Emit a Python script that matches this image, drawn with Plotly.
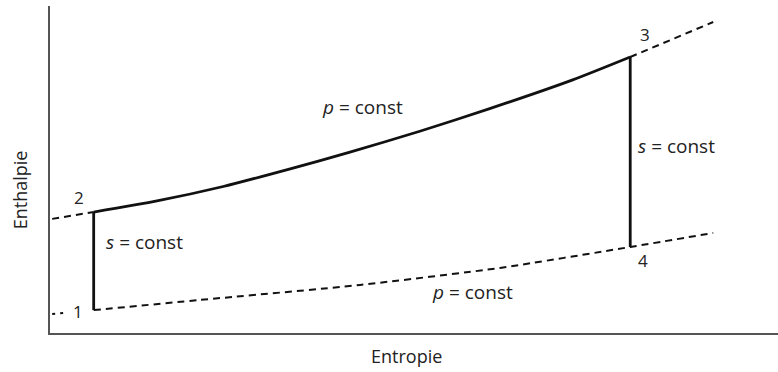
import plotly.graph_objects as go

# Data (arbitrary units: entropy s, enthalpy h)
# Upper isobar (heat addition 2 -> 3), solid part
s_high = [0.60, 1.47, 2.38, 3.30, 4.12, 5.08, 6.04, 7.18, 7.97]
h_high = [3.70, 4.04, 4.48, 5.02, 5.53, 6.17, 6.86, 7.74, 8.44]
# Upper isobar dashed extensions
s_high_left = [0.03, 0.60]
h_high_left = [3.49, 3.70]
s_high_right = [7.97, 9.11]
h_high_right = [8.44, 9.51]
# Lower isobar (dashed): short stub left of point 1, then 1 -> 4 -> beyond
s_low_left = [0.03, 0.22]
h_low_left = [0.58, 0.62]
s_low = [0.60, 2.06, 4.26, 6.18, 7.97, 9.11]
h_low = [0.70, 1.01, 1.47, 1.99, 2.63, 3.06]
# Isentropes
s_comp = [0.60, 0.60]
h_comp = [0.70, 3.70]
s_turb = [7.97, 7.97]
h_turb = [8.44, 2.63]

point_labels = ["1", "2", "3", "4"]
point_s = [0.38, 0.40, 8.17, 8.15]
point_h = [0.66, 4.15, 9.12, 2.23]

fig = go.Figure()
dash_style = dict(color="#111", width=2, dash="7px,5px", shape="spline", smoothing=0.6)
stub_style = dict(color="#111", width=2, dash="3px,5px")
solid_style = dict(color="#111", width=2.8)
curve_style = dict(color="#111", width=2.8, shape="spline", smoothing=0.6)

fig.add_trace(go.Scatter(x=s_low_left, y=h_low_left, mode="lines", line=stub_style))
fig.add_trace(go.Scatter(x=s_low, y=h_low, mode="lines", line=dash_style))
fig.add_trace(go.Scatter(x=s_high_left, y=h_high_left, mode="lines", line=dash_style))
fig.add_trace(go.Scatter(x=s_high_right, y=h_high_right, mode="lines", line=dash_style))
fig.add_trace(go.Scatter(x=s_comp, y=h_comp, mode="lines", line=solid_style))
fig.add_trace(go.Scatter(x=s_high, y=h_high, mode="lines", line=curve_style))
fig.add_trace(go.Scatter(x=s_turb, y=h_turb, mode="lines", line=solid_style))

font = dict(family="Open Sans", size=19, color="#222")
num_font = dict(family="Open Sans", size=17, color="#222")
title_font = dict(family="Open Sans", size=18, color="#222")
ann = []
for t, x, y in zip(point_labels, point_s, point_h):
    ann.append(dict(x=x, y=y, text=t, showarrow=False, font=num_font,
                    xanchor="center", yanchor="middle"))
ann += [
    dict(x=1.30, y=2.79, text="<i>s</i> = const", showarrow=False, font=font),
    dict(x=4.29, y=6.91, text="<i>p</i> = const", showarrow=False, font=font),
    dict(x=8.60, y=5.72, text="<i>s</i> = const", showarrow=False, font=font),
    dict(x=5.80, y=1.25, text="<i>p</i> = const", showarrow=False, font=font),
    dict(xref="paper", yref="paper", x=0.49, y=-0.070, text="Entropie",
         xanchor="center", yanchor="middle", showarrow=False, font=title_font),
    dict(xref="paper", yref="paper", x=-0.041, y=0.437, text="Enthalpie",
         xanchor="center", yanchor="middle", textangle=-90, showarrow=False,
         font=title_font),
]

axis_common = dict(showline=True, linecolor="#555", linewidth=2, showgrid=False,
                   zeroline=False, showticklabels=False, ticks="", range=[0, 10],
                   fixedrange=True)
fig.update_layout(
    width=778, height=372,
    margin=dict(l=50, r=0, t=6, b=39),
    paper_bgcolor="white", plot_bgcolor="white",
    showlegend=False,
    xaxis=axis_common, yaxis=axis_common,
    annotations=ann,
)
fig.write_html("out.html", config={"displayModeBar": False},
               post_script="document.body.style.margin='0';")
